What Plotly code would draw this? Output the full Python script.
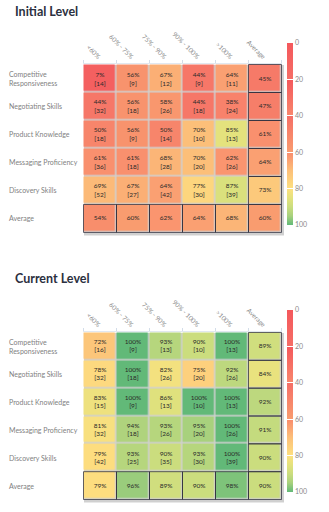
import plotly.graph_objects as go

# Categories
bands = ["<60%", "60% - 75%", "75% - 90%", "90% - 100%", ">100%", "Average"]
skills = ["Competitive<br>Responsiveness", "Negotiating Skills", "Product Knowledge",
          "Messaging Proficiency", "Discovery Skills", "Average"]

# Initial level: percentage per band, row average, and rep counts
initial_pct = [
    [7, 56, 67, 44, 64, 45],
    [44, 56, 58, 44, 38, 47],
    [50, 56, 50, 70, 85, 61],
    [61, 61, 68, 70, 62, 64],
    [69, 67, 64, 77, 87, 73],
    [54, 60, 62, 64, 68, 60],
]
initial_n = [
    [14, 9, 12, 9, 11],
    [32, 18, 26, 18, 24],
    [18, 9, 14, 10, 13],
    [36, 18, 28, 20, 26],
    [52, 27, 42, 30, 39],
]

# Current level
current_pct = [
    [72, 100, 93, 90, 100, 89],
    [78, 100, 82, 75, 92, 84],
    [83, 100, 86, 100, 100, 92],
    [81, 94, 93, 95, 100, 91],
    [79, 93, 90, 93, 100, 90],
    [79, 96, 89, 90, 98, 90],
]
current_n = [
    [16, 9, 13, 10, 13],
    [32, 18, 26, 20, 26],
    [15, 9, 13, 10, 13],
    [32, 18, 26, 20, 26],
    [42, 25, 35, 30, 39],
]

scale_ticks = [0, 20, 40, 60, 80, 100]

# Score -> colour stops (score in 0..100)
score_stops = [
    (0, "#f4585c"), (20, "#f4585c"),
    (20, "#f56e66"), (40, "#f56e66"),
    (40, "#f8876d"), (60, "#f98b6d"),
    (60, "#f99c6f"), (70, "#fcbf79"), (80, "#fde080"),
    (85, "#e4e27d"), (90, "#cbdd7e"), (95, "#a8d17d"), (100, "#62b978"),
]
# The colorbar runs 0 at the top, so the heatmap works on negated scores
colorscale = sorted([[1 - s / 100, c] for s, c in score_stops], key=lambda p: p[0])

FONT = "Lato"
DARK = "#2b3040"
W, H = 329, 512
GRID_X = (83 / W, 282 / W)


def cell_text(pct, n):
    out = []
    for i, row in enumerate(pct):
        r = []
        for j, v in enumerate(row):
            if i < len(n) and j < len(n[i]):
                r.append(f"{v}%<br>[{n[i][j]}]")
            else:
                r.append(f"{v}%")
        out.append(r)
    return out


fig = go.Figure()

panels = [
    ("Initial Level", initial_pct, initial_n, "x", "y", [0.545, 0.875], 0.916, 0.977),
    ("Current Level", current_pct, current_n, "x2", "y2", [0.0234, 0.3516], 0.3945, 0.457),
]

for k, (title, pct, n, xa, ya, ydom, cb_top, title_y) in enumerate(panels):
    fig.add_trace(go.Heatmap(
        z=[[-v for v in row] for row in pct],
        x=bands, y=skills,
        text=cell_text(pct, n), texttemplate="%{text}",
        textfont=dict(family=FONT, size=6.5, color="#2a2a2a"),
        colorscale=colorscale, zmin=-100, zmax=0,
        xgap=1.5, ygap=1.5,
        xaxis=xa, yaxis=ya, hoverinfo="skip",
        colorbar=dict(
            x=287 / W, xanchor="left", xpad=0, ypad=0,
            y=cb_top, yanchor="top", len=182 / H, lenmode="fraction",
            thickness=6, thicknessmode="pixels", outlinewidth=0,
            tickvals=[-t for t in scale_ticks], ticktext=[str(t) for t in scale_ticks],
            ticks="inside", ticklen=6, tickcolor="white", tickwidth=1.2,
            tickfont=dict(family=FONT, size=7, color="#8a8a8a"),
        ),
    ))

    suffix = "" if k == 0 else "2"
    fig.layout["xaxis" + suffix] = dict(
        domain=list(GRID_X), anchor=ya, side="top", type="category",
        tickangle=45, tickfont=dict(family=FONT, size=6.5, color="#8a8a8a"),
        ticks="outside", tickson="boundaries", ticklen=3, tickcolor="#d3dde9",
        showline=True, linecolor="#e1e8f0", showgrid=False, zeroline=False,
        fixedrange=True,
    )
    fig.layout["yaxis" + suffix] = dict(
        domain=ydom, anchor=xa, type="category", autorange="reversed",
        showticklabels=False, showgrid=False, zeroline=False, fixedrange=True,
    )

    # Soft drop shadow under the grid
    fig.add_shape(
        type="rect", xref="paper", yref="paper", layer="below",
        x0=GRID_X[0] + 1 / W, x1=GRID_X[1] + 2 / W,
        y0=ydom[0] - 2.5 / H, y1=ydom[1] - 1 / H,
        line=dict(width=0), fillcolor="rgba(150,150,150,0.45)",
    )

    # Section title
    fig.add_annotation(
        text=f"<b>{title}</b>", xref="paper", yref="paper",
        x=13 / W, y=title_y, xanchor="left", yanchor="middle", showarrow=False,
        font=dict(family=FONT, size=12.5, color=DARK),
    )

    # Row labels, left aligned
    for s in skills:
        fig.add_annotation(
            text=s, xref="paper", yref=ya, x=7 / W, y=s,
            xanchor="left", yanchor="middle", align="left", showarrow=False,
            font=dict(family=FONT, size=7, color="#7f7f7f"),
        )

    # Outline the average column and average row
    last = len(bands) - 1
    for i in range(len(skills)):
        for j in range(len(bands)):
            if i == last or j == last:
                fig.add_shape(
                    type="rect", xref=xa, yref=ya,
                    x0=j - 0.5, x1=j + 0.5, y0=i - 0.5, y1=i + 0.5,
                    line=dict(color="rgba(45,45,60,0.75)", width=1),
                )

fig.update_layout(
    width=W, height=H, margin=dict(l=0, r=0, t=0, b=0),
    paper_bgcolor="white", plot_bgcolor="white", showlegend=False,
)

fig.write_html("out.html")
